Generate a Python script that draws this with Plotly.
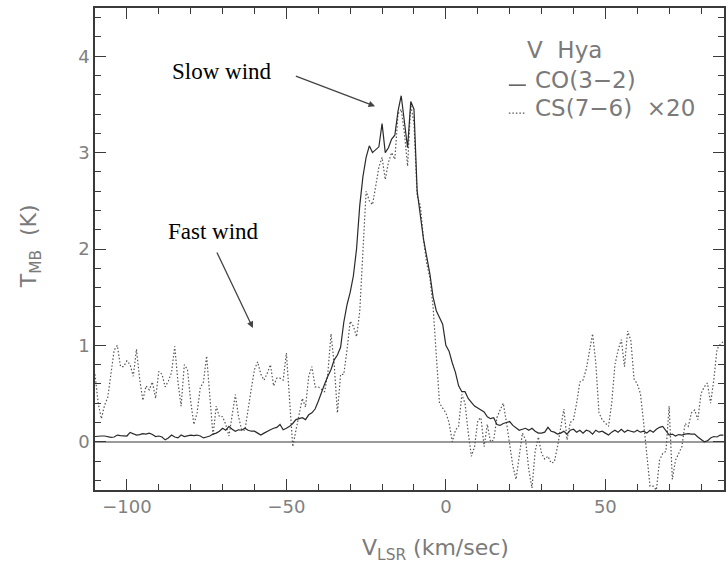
import plotly.graph_objects as go

# Velocity channels (km/s)
velocity = list(range(-110, 88))

# CO(3-2) main-beam temperature (K)
co_32 = [
    0.055, 0.06, 0.06, 0.06, 0.05, 0.045, 0.05, 0.07, 0.065, 0.06,
    0.06, 0.097, 0.08, 0.07, 0.075, 0.085, 0.08, 0.09, 0.075, 0.055,
    0.06, 0.05, 0.02, 0.04, 0.07, 0.05, 0.04, 0.07, 0.055, 0.065,
    0.07, 0.065, 0.07, 0.06, 0.04, 0.05, 0.06, 0.08, 0.09, 0.11,
    0.14, 0.12, 0.16, 0.13, 0.11, 0.125, 0.12, 0.14, 0.12, 0.11,
    0.11, 0.09, 0.07, 0.09, 0.11, 0.125, 0.14, 0.15, 0.18, 0.125,
    0.14, 0.16, 0.19, 0.23, 0.24, 0.25, 0.23, 0.28, 0.30, 0.34,
    0.42, 0.52, 0.60, 0.68, 0.75, 0.85, 0.90, 0.98, 1.24, 1.42,
    1.55, 1.72, 2.0, 2.45, 2.75, 2.95, 3.07, 3.0, 3.03, 3.06,
    3.30, 3.0, 3.05, 3.14, 3.18, 3.43, 3.59, 3.30, 3.05, 3.53,
    3.45, 2.6, 2.35, 2.1, 1.92, 1.74, 1.50, 1.36, 1.29, 1.22,
    1.0, 0.94, 0.82, 0.72, 0.58, 0.52, 0.52, 0.45, 0.41, 0.37,
    0.35, 0.33, 0.31, 0.26, 0.24, 0.25, 0.18, 0.17, 0.19, 0.20,
    0.21, 0.17, 0.14, 0.12, 0.13, 0.14, 0.12, 0.14, 0.11, 0.09,
    0.09, 0.10, 0.15, 0.11, 0.10, 0.08, 0.09, 0.11, 0.08, 0.12,
    0.13, 0.10, 0.12, 0.09, 0.12, 0.11, 0.08, 0.12, 0.10, 0.11,
    0.09, 0.07, 0.10, 0.12, 0.10, 0.13, 0.10, 0.12, 0.11, 0.10,
    0.12, 0.10, 0.11, 0.09, 0.12, 0.10, 0.13, 0.15, 0.16, 0.12,
    0.07, 0.08, 0.06, 0.075, 0.07, 0.08, 0.085, 0.08, 0.08, 0.05,
    0.02, 0.0, 0.01, 0.04, 0.055, 0.05, 0.07, 0.07,
]

# CS(7-6) main-beam temperature x20 (K)
cs_76_x20 = [
    0.70, 0.40, 0.24, 0.38, 0.46, 0.72, 0.95, 1.00, 0.78, 0.78,
    0.84, 0.80, 0.68, 0.96, 0.65, 0.43, 0.58, 0.54, 0.62, 0.45,
    0.73, 0.70, 0.57, 0.63, 0.72, 0.99, 0.62, 0.37, 0.80, 0.75,
    0.42, 0.18, 0.30, 0.56, 0.62, 0.89, 0.50, 0.06, 0.37, 0.26,
    0.26, 0.18, 0.06, 0.28, 0.49, 0.26, 0.12, 0.12, 0.36, 0.55,
    0.75, 0.83, 0.70, 0.64, 0.71, 0.80, 0.58, 0.66, 0.66, 0.64,
    0.92, 0.40, -0.05, 0.12, 0.28, 0.45, 0.36, 0.68, 0.78, 0.57,
    0.57, 0.54, 0.52, 0.71, 1.12, 0.80, 0.30, 0.70, 0.70, 0.95,
    1.25, 1.20, 1.09, 1.35, 2.05, 2.60, 2.50, 2.46, 2.65, 2.85,
    2.95, 2.72, 2.90, 3.00, 2.93, 3.40, 3.45, 3.20, 2.86, 3.50,
    3.30, 2.55, 2.45, 2.10, 1.85, 1.70, 1.40, 0.90, 0.40, 0.35,
    0.30, 0.20, 0.0, 0.12, 0.16, 0.49, 0.40, 0.10, -0.15, -0.05,
    0.22, 0.25, -0.05, 0.18, 0.0, 0.02, 0.25, 0.33, 0.40, 0.20,
    -0.05, -0.25, -0.39, -0.12, 0.09, 0.02, -0.29, -0.48, -0.10, 0.05,
    -0.12, -0.18, -0.15, -0.22, -0.21, -0.05, 0.15, 0.34, 0.02, 0.20,
    0.23, 0.40, 0.62, 0.64, 0.75, 0.95, 1.12, 0.82, 0.30, 0.23,
    0.20, 0.16, 0.40, 0.80, 0.95, 1.06, 0.78, 1.15, 1.05, 0.65,
    0.60, 0.50, 0.20, -0.12, -0.46, -0.46, -0.50, -0.19, -0.12, -0.10,
    0.37, -0.39, -0.19, -0.12, -0.05, 0.19, 0.16, 0.30, 0.33, 0.23,
    0.50, 0.57, 0.61, 0.40, 0.64, 0.96, 1.01, 1.04,
]

x_tick_vals = [-100, -50, 0, 50]
x_tick_text = ["\u2212100", "\u221250", "0", "50"]
y_tick_vals = [0, 1, 2, 3, 4]
y_tick_text = ["0", "1", "2", "3", "4"]

TICK_FONT = dict(family="DejaVu Sans", size=18, color="#808080")
LABEL_FONT = dict(family="DejaVu Sans", size=22, color="#7a7a7a")
LEGEND_FONT = dict(family="DejaVu Sans", size=23, color="#7a7a7a")
SERIF_FONT = dict(family="Liberation Serif", size=23, color="black")
AXIS_COLOR = "#3a3a3a"

fig = go.Figure()
fig.add_trace(go.Scatter(
    x=velocity, y=cs_76_x20, mode="lines",
    line=dict(color="#555555", width=1.2, dash="1.5px,2px"),
    showlegend=False, hoverinfo="skip"))
fig.add_trace(go.Scatter(
    x=velocity, y=co_32, mode="lines",
    line=dict(color="#2a2a2a", width=1.2),
    showlegend=False, hoverinfo="skip"))

fig.update_layout(
    width=726, height=569,
    margin=dict(l=95, r=0, t=8, b=79),
    paper_bgcolor="white", plot_bgcolor="white",
    xaxis=dict(
        range=[-110, 87.2], showgrid=False, zeroline=False,
        showline=True, linecolor=AXIS_COLOR, linewidth=1.5, mirror="ticks",
        ticks="inside", ticklen=11, tickwidth=1.2, tickcolor=AXIS_COLOR,
        tickvals=x_tick_vals, ticktext=x_tick_text, tickfont=TICK_FONT,
        minor=dict(ticks="inside", ticklen=6, tickwidth=1, tickcolor=AXIS_COLOR,
                   dtick=10, tick0=0),
    ),
    yaxis=dict(
        range=[-0.5, 4.5], showgrid=False,
        zeroline=True, zerolinecolor="#9a9a9a", zerolinewidth=1.5,
        showline=True, linecolor=AXIS_COLOR, linewidth=1.5, mirror="ticks",
        ticks="inside", ticklen=11, tickwidth=1.2, tickcolor=AXIS_COLOR,
        tickvals=y_tick_vals, ticktext=y_tick_text, tickfont=TICK_FONT,
        minor=dict(ticks="inside", ticklen=6, tickwidth=1, tickcolor=AXIS_COLOR,
                   dtick=0.2, tick0=0),
    ),
)

annotations = [
    # axis titles
    dict(text="V<sub>LSR</sub> (km/sec)", xref="paper", yref="paper",
         x=0.541, y=-0.124, xanchor="center", yanchor="middle",
         showarrow=False, font=LABEL_FONT),
    dict(text="T<sub>MB</sub>  (K)", xref="paper", yref="paper",
         x=-0.103, y=0.506, xanchor="center", yanchor="middle",
         textangle=-90, showarrow=False, font=LABEL_FONT),
    # legend block
    dict(text="V\u00a0\u00a0Hya", xref="paper", yref="paper",
         x=0.683, y=0.913, xanchor="left", yanchor="middle",
         showarrow=False, font=LEGEND_FONT),
    dict(text="CO(3\u22122)", xref="paper", yref="paper",
         x=0.697, y=0.851, xanchor="left", yanchor="middle",
         showarrow=False, font=LEGEND_FONT),
    dict(text="CS(7\u22126)\u00a0\u00a0\u00d720", xref="paper", yref="paper",
         x=0.697, y=0.793, xanchor="left", yanchor="middle",
         showarrow=False, font=LEGEND_FONT),
    # wind labels
    dict(text="Slow wind", x=-70.3, y=3.84, xanchor="center", yanchor="middle",
         showarrow=False, font=SERIF_FONT),
    dict(text="Fast wind", x=-72.8, y=2.18, xanchor="center", yanchor="middle",
         showarrow=False, font=SERIF_FONT),
    # arrows
    dict(text="", x=-22.2, y=3.48, ax=-47.5, ay=3.80, axref="x", ayref="y",
         showarrow=True, arrowhead=2, arrowsize=1, arrowwidth=1.3,
         arrowcolor="#444444"),
    dict(text="", x=-60.5, y=1.18, ax=-72.0, ay=1.98, axref="x", ayref="y",
         showarrow=True, arrowhead=2, arrowsize=1, arrowwidth=1.3,
         arrowcolor="#444444"),
]
fig.update_layout(annotations=annotations)

# legend line samples
fig.add_shape(type="line", xref="paper", yref="paper",
              x0=0.658, x1=0.685, y0=0.840, y1=0.840,
              line=dict(color="#2a2a2a", width=1.2))
fig.add_shape(type="line", xref="paper", yref="paper",
              x0=0.658, x1=0.685, y0=0.782, y1=0.782,
              line=dict(color="#555555", width=1.2, dash="1.5px,2px"))

fig.write_html("out.html")
